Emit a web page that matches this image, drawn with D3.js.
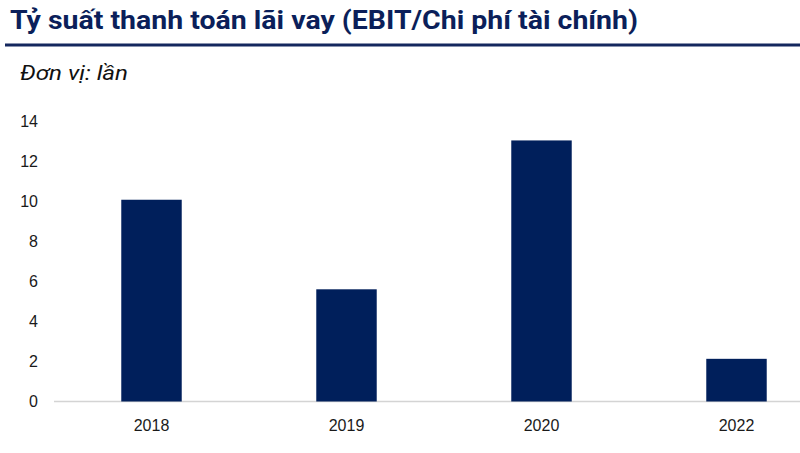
<!DOCTYPE html>
<html><head><meta charset="utf-8">
<script src="https://cdn.jsdelivr.net/npm/d3@7"></script>
<style>body{margin:0;background:#fff}svg{display:block}</style>
</head><body>
<script>
const title = "Tỷ suất thanh toán lãi vay (EBIT/Chi phí tài chính)";
const unitLabel = "Đơn vị: lần";
const years = ["2018", "2019", "2020", "2022"];
const values = [10.07, 5.6, 13.03, 2.13];
const yTicks = [0, 2, 4, 6, 8, 10, 12, 14];

const W = 800, H = 453;
const svg = d3.select("body").append("svg").attr("width", W).attr("height", H);

svg.append("text").attr("x", 10).attr("y", 29)
  .attr("font-family", "Roboto, 'Liberation Sans', sans-serif")
  .attr("font-weight", "bold").attr("font-size", 25)
  .attr("fill", "#0b1f5a")
  .attr("textLength", 628).attr("lengthAdjust", "spacingAndGlyphs")
  .text(title);

svg.append("line").attr("x1", 5).attr("x2", W).attr("y1", 45).attr("y2", 45)
  .attr("stroke", "#14275e").attr("stroke-width", 3);

svg.append("text").attr("x", 20).attr("y", 80)
  .attr("font-family", "Roboto, 'Liberation Sans', sans-serif")
  .attr("font-style", "italic").attr("font-size", 21)
  .attr("fill", "#111")
  .attr("textLength", 108).attr("lengthAdjust", "spacingAndGlyphs")
  .text(unitLabel);

const x = d3.scaleBand().domain(years).range([54, 834]).paddingInner(0.69).paddingOuter(0.345);
const y = d3.scaleLinear().domain([0, 14]).range([401.5, 121]);

// baseline
svg.append("line").attr("x1", 54).attr("x2", W).attr("y1", y(0)).attr("y2", y(0))
  .attr("stroke", "#d4d4d4").attr("stroke-width", 1.5);

svg.append("g").selectAll("rect").data(years).join("rect")
  .attr("x", d => x(d))
  .attr("width", x.bandwidth())
  .attr("y", (d, i) => y(values[i]))
  .attr("height", (d, i) => y(0) - y(values[i]))
  .attr("fill", "#001f5b");

const yAxis = d3.axisLeft(y).tickValues(yTicks).tickSize(0).tickPadding(0);
const gy = svg.append("g").attr("transform", "translate(38,0)").call(yAxis);
gy.select(".domain").remove();
gy.selectAll("text").attr("font-family", "'Liberation Sans', Arial, sans-serif")
  .attr("font-size", 16).attr("fill", "#1a1a1a");

const xAxis = d3.axisBottom(x).tickSize(0).tickPadding(0);
const gx = svg.append("g").attr("transform", `translate(0,${y(0) + 18})`).call(xAxis);
gx.select(".domain").remove();
gx.selectAll("text").attr("font-family", "'Liberation Sans', Arial, sans-serif")
  .attr("font-size", 16).attr("fill", "#1a1a1a");
</script>
</body></html>
